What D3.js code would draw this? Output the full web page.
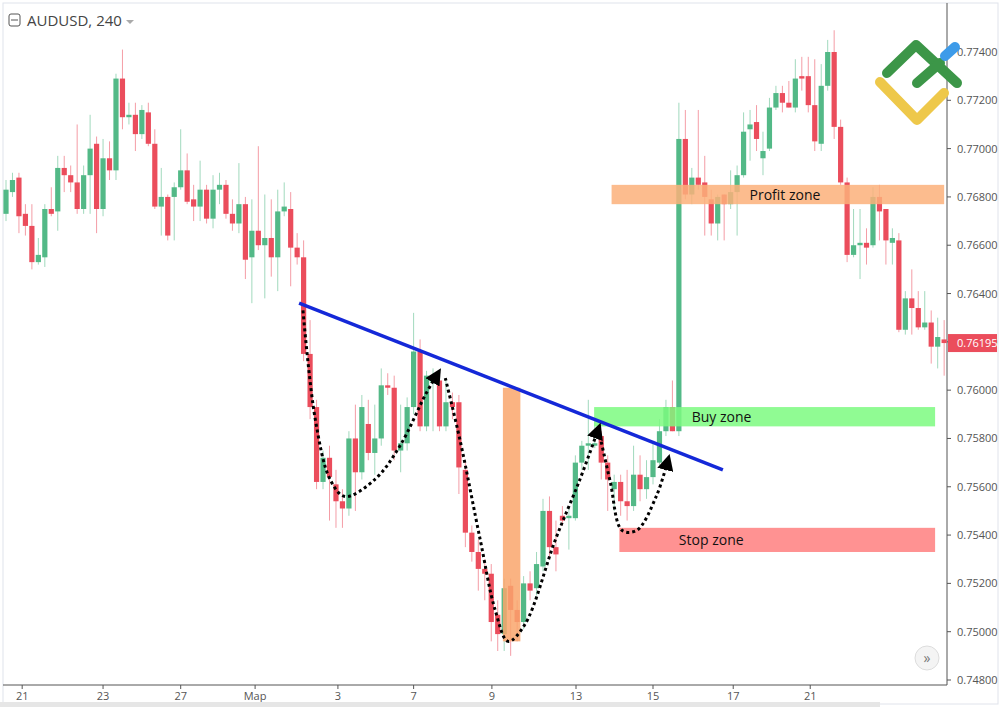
<!DOCTYPE html>
<html>
<head>
<meta charset="utf-8">
<script src="https://cdn.jsdelivr.net/npm/d3@7"></script>
<style>
  body { margin: 0; background: #fff; }
  text { font-family: "Open Sans", "DejaVu Sans", sans-serif; }
</style>
</head>
<body>
<svg id="chart" width="1000" height="707"></svg>
<script>
// AUDUSD 240 candles
var opens = [0.7673,0.7682,0.7688,0.7673,0.7668,0.7653,0.7655,0.7675,0.7674,0.7692,0.7689,0.7686,0.7675,0.7689,0.7702,0.7675,0.7696,0.7691,0.7729,0.7713,
0.7714,0.7706,0.7715,0.7702,0.7676,0.7680,0.7680,0.7684,0.7691,0.7679,0.7676,0.7683,0.7671,0.7683,0.7685,0.7673,0.7669,0.7677,0.7655,0.7666,
0.7660,0.7663,0.7655,0.7674,0.7675,0.7659,0.7655,0.7615,0.7593,0.7562,0.7572,0.7561,0.7554,0.7551,0.7580,0.7566,0.7586,0.7574,0.7580,0.7602,
0.7601,0.7575,0.7578,0.7593,0.7616,0.7585,0.7603,0.7604,0.7585,0.7595,0.7595,0.7567,0.7541,0.7533,0.7526,0.7524,0.7507,0.7499,0.7519,0.7509,
0.7504,0.7520,0.7518,0.7527,0.7550,0.7535,0.7548,0.7547,0.7547,0.7570,0.7577,0.7577,0.7581,0.7570,0.7559,0.7562,0.7554,0.7552,0.7565,0.7559,
0.7564,0.7570,0.7583,0.7593,0.7583,0.7704,0.7681,0.7688,0.7686,0.7679,0.7669,0.7681,0.7677,0.7682,0.7689,0.7708,0.7711,0.7696,0.7700,0.7717,
0.7723,0.7719,0.7717,0.7730,0.7730,0.7718,0.7702,0.7726,0.7740,0.7709,0.7686,0.7656,0.7660,0.7661,0.7660,0.7680,0.7675,0.7661,0.7662,0.7625,
0.7638,0.7634,0.7626,0.7628,0.7618,0.7621];
var closes = [0.7683,0.7687,0.7672,0.7668,0.7653,0.7656,0.7675,0.7673,0.7692,0.7689,0.7686,0.7675,0.7689,0.7700,0.7675,0.7696,0.7691,0.7729,0.7713,0.7714,
0.7706,0.7716,0.7702,0.7676,0.7680,0.7664,0.7684,0.7691,0.7678,0.7676,0.7683,0.7671,0.7683,0.7685,0.7673,0.7669,0.7677,0.7654,0.7666,0.7660,
0.7663,0.7655,0.7674,0.7676,0.7659,0.7655,0.7615,0.7593,0.7562,0.7572,0.7564,0.7554,0.7551,0.7580,0.7566,0.7593,0.7574,0.7580,0.7602,0.7601,
0.7575,0.7578,0.7593,0.7616,0.7585,0.7606,0.7605,0.7585,0.7595,0.7593,0.7568,0.7541,0.7533,0.7526,0.7524,0.7504,0.7499,0.7518,0.7509,0.7504,
0.7520,0.7517,0.7528,0.7550,0.7535,0.7532,0.7546,0.7548,0.7570,0.7577,0.7578,0.7578,0.7570,0.7563,0.7562,0.7554,0.7552,0.7565,0.7559,0.7564,
0.7571,0.7583,0.7593,0.7583,0.7704,0.7681,0.7688,0.7685,0.7680,0.7669,0.7680,0.7677,0.7682,0.7689,0.7707,0.7710,0.7704,0.7699,0.7717,0.7723,
0.7719,0.7717,0.7729,0.7729,0.7718,0.7703,0.7726,0.7740,0.7709,0.7686,0.7656,0.7660,0.7661,0.7659,0.7680,0.7674,0.7662,0.7663,0.7625,0.7638,
0.7634,0.7626,0.7628,0.7618,0.7622,0.76195];
var highs = [0.7687,0.7690,0.7690,0.7677,0.7677,0.7663,0.7677,0.7684,0.7697,0.7697,0.7693,0.7710,0.7693,0.7714,0.7705,0.7704,0.7703,0.7731,0.7741,0.7719,
0.7719,0.7718,0.7719,0.7708,0.7692,0.7681,0.7686,0.7708,0.7698,0.7685,0.7695,0.7685,0.7689,0.7690,0.7687,0.7679,0.7694,0.7680,0.7679,0.7701,
0.7681,0.7679,0.7683,0.7686,0.7682,0.7665,0.7662,0.7629,0.7596,0.7575,0.7577,0.7567,0.7559,0.7583,0.7594,0.7598,0.7596,0.7594,0.7609,0.7607,
0.7606,0.7594,0.7597,0.7632,0.7621,0.7608,0.7609,0.7607,0.7604,0.7599,0.7598,0.7571,0.7544,0.7538,0.7530,0.7528,0.7513,0.7522,0.7522,0.7513,
0.7523,0.7525,0.7533,0.7555,0.7556,0.7546,0.7552,0.7552,0.7573,0.7579,0.7596,0.7588,0.7583,0.7573,0.7565,0.7565,0.7567,0.7577,0.7573,0.7571,
0.7579,0.7588,0.7596,0.7604,0.7719,0.7716,0.7692,0.7716,0.7697,0.7683,0.7681,0.7681,0.7691,0.7693,0.7715,0.7716,0.7718,0.7707,0.7721,0.7726,
0.7726,0.7728,0.7737,0.7738,0.7738,0.7737,0.7735,0.7745,0.7749,0.7712,0.7688,0.7675,0.7675,0.7667,0.7684,0.7685,0.7675,0.7667,0.7665,0.7641,
0.7650,0.7641,0.7641,0.7633,0.7630,0.7629];
var lows = [0.7670,0.7680,0.7665,0.7664,0.7650,0.7652,0.7651,0.7672,0.7666,0.7682,0.7682,0.7673,0.7673,0.7673,0.7665,0.7672,0.7687,0.7687,0.7708,0.7710,
0.7699,0.7704,0.7701,0.7675,0.7664,0.7662,0.7662,0.7683,0.7677,0.7670,0.7670,0.7669,0.7667,0.7677,0.7671,0.7666,0.7665,0.7646,0.7636,0.7658,
0.7638,0.7647,0.7641,0.7672,0.7643,0.7652,0.7612,0.7588,0.7559,0.7559,0.7546,0.7543,0.7543,0.7548,0.7550,0.7563,0.7571,0.7565,0.7577,0.7598,
0.7571,0.7566,0.7575,0.7590,0.7583,0.7583,0.7583,0.7583,0.7583,0.7588,0.7557,0.7535,0.7529,0.7517,0.7513,0.7496,0.7492,0.7492,0.7490,0.7496,
0.7501,0.7513,0.7515,0.7525,0.7530,0.7525,0.7544,0.7534,0.7546,0.7567,0.7567,0.7576,0.7563,0.7550,0.7550,0.7548,0.7546,0.7550,0.7554,0.7555,
0.7561,0.7569,0.7581,0.7583,0.7581,0.7679,0.7677,0.7683,0.7664,0.7664,0.7662,0.7662,0.7675,0.7664,0.7688,0.7695,0.7699,0.7689,0.7699,0.7716,
0.7715,0.7717,0.7715,0.7724,0.7715,0.7699,0.7699,0.7724,0.7704,0.7685,0.7653,0.7655,0.7646,0.7652,0.7659,0.7662,0.7652,0.7652,0.7624,0.7623,
0.7623,0.7625,0.7625,0.7611,0.7609,0.7606];

var priceTicks = [0.748,0.750,0.752,0.754,0.756,0.758,0.760,0.762,0.764,0.766,0.768,0.770,0.772,0.774];
var dateTicks = [[2.5,"21"],[15,"23"],[27,"27"],[38.5,"Мар"],[51.3,"3"],[63,"7"],[75.1,"9"],[88.1,"13"],[100,"15"],[112.4,"17"],[124.3,"21"]];
var lastPrice = 0.76195;

// annotation zones: [fromIndex, toIndex, priceTop, priceBottom, label, colour]
var zones = [
  [93.6, 145.0, 0.7685, 0.7677, "Profit zone", "#fbb07a"],
  [90.9, 143.6, 0.7593, 0.7585, "Buy zone", "#7dfa80"],
  [94.8, 143.6, 0.7543, 0.7533, "Stop zone", "#ff7f7f"]
];
var targetBar = [76.8, 79.5, 0.7601, 0.7496];
var neckline = [[45.3, 0.7636], [110.8, 0.7567]];
var waves = [
  [[45.9,0.7633],[47.8,0.7588],[50.1,0.7563],[52.4,0.7556],[57,0.7563],[60.9,0.7577],[64.8,0.7598],[66.3,0.7605]],
  [[67.9,0.7605],[70.2,0.7579],[73.3,0.7538],[75.6,0.7509],[77.6,0.7496],[80.2,0.7503],[84.9,0.7538],[88.7,0.7563],[91.3,0.7582]],
  [[91.8,0.7581],[93.4,0.7562],[95.2,0.7542],[97.5,0.7542],[100.5,0.7556],[102.1,0.7569]]
];

var svg = d3.select("#chart");
var x = d3.scaleLinear().domain([0, 1]).range([6, 12.47]);
var y = d3.scaleLinear().domain([0.774, 0.748]).range([52, 680]);
var axisX = 947, axisY = 685;

// frame
svg.append("rect").attr("x", 3).attr("y", 3).attr("width", 995).attr("height", 701)
  .attr("fill", "none").attr("stroke", "#e0e3eb");
svg.append("line").attr("x1", axisX).attr("x2", axisX).attr("y1", 3).attr("y2", axisY).attr("stroke", "#555");
svg.append("line").attr("x1", 3).attr("x2", axisX).attr("y1", axisY).attr("y2", axisY).attr("stroke", "#555");

// candles
var candles = svg.append("g");
d3.range(opens.length).forEach(function(i) {
  var up = closes[i] >= opens[i];
  var col = up ? "#53b987" : "#eb4d5c";
  candles.append("line").attr("x1", x(i)).attr("x2", x(i))
    .attr("y1", y(highs[i])).attr("y2", y(lows[i]))
    .attr("stroke", col).attr("stroke-opacity", 0.55);
  var top = y(Math.max(opens[i], closes[i])), bot = y(Math.min(opens[i], closes[i]));
  candles.append("rect").attr("x", x(i) - 2.6).attr("width", 5.2)
    .attr("y", top).attr("height", Math.max(bot - top, 2)).attr("fill", col);
});

// zones
zones.forEach(function(z) {
  svg.append("rect").attr("x", x(z[0])).attr("width", x(z[1]) - x(z[0]))
    .attr("y", y(z[2])).attr("height", y(z[3]) - y(z[2]))
    .attr("fill", z[5]).attr("opacity", 0.85);
});
svg.append("text").attr("x", x(120.4)).attr("y", y(0.7681) + 5).attr("text-anchor", "middle")
  .attr("font-size", 14).attr("fill", "#111").text(zones[0][4]);
svg.append("text").attr("x", x(110.6)).attr("y", y(0.7589) + 5).attr("text-anchor", "middle")
  .attr("font-size", 14).attr("fill", "#111").text(zones[1][4]);
svg.append("text").attr("x", x(109)).attr("y", y(0.7538) + 5).attr("text-anchor", "middle")
  .attr("font-size", 14).attr("fill", "#111").text(zones[2][4]);

svg.append("rect").attr("x", x(targetBar[0])).attr("width", x(targetBar[1]) - x(targetBar[0]))
  .attr("y", y(targetBar[2])).attr("height", y(targetBar[3]) - y(targetBar[2]))
  .attr("fill", "#f9a66c").attr("opacity", 0.85);

// neckline
svg.append("line").attr("x1", x(neckline[0][0])).attr("y1", y(neckline[0][1]))
  .attr("x2", x(neckline[1][0])).attr("y2", y(neckline[1][1]))
  .attr("stroke", "#1428d8").attr("stroke-width", 3.5);

// dotted wave paths with arrowheads
svg.append("defs").append("marker").attr("id", "arr").attr("viewBox", "0 0 10 10")
  .attr("refX", 3).attr("refY", 5).attr("markerWidth", 5.5).attr("markerHeight", 5.5)
  .attr("orient", "auto").attr("markerUnits", "strokeWidth")
  .append("path").attr("d", "M0,0L10,5L0,10z").attr("fill", "#000");
var line = d3.line().x(function(d) { return x(d[0]); }).y(function(d) { return y(d[1]); })
  .curve(d3.curveCatmullRom);
waves.forEach(function(w) {
  svg.append("path").attr("d", line(w)).attr("fill", "none").attr("stroke", "#000")
    .attr("stroke-width", 3).attr("stroke-dasharray", "3,3").attr("marker-end", "url(#arr)");
});

// price axis
priceTicks.forEach(function(p) {
  svg.append("line").attr("x1", axisX).attr("x2", axisX + 4).attr("y1", y(p)).attr("y2", y(p)).attr("stroke", "#555");
  svg.append("text").attr("x", axisX + 10).attr("y", y(p) + 4).attr("font-size", 11)
    .attr("fill", "#555").text(p.toFixed(5));
});
svg.append("rect").attr("x", axisX + 1).attr("y", y(lastPrice) - 9).attr("width", 49).attr("height", 18).attr("fill", "#eb4d5c");
svg.append("text").attr("x", axisX + 10).attr("y", y(lastPrice) + 4).attr("font-size", 11)
  .attr("fill", "#fff").text(lastPrice.toFixed(5));

// date axis
dateTicks.forEach(function(t) {
  svg.append("line").attr("x1", x(t[0])).attr("x2", x(t[0])).attr("y1", axisY).attr("y2", axisY + 4).attr("stroke", "#555");
  svg.append("text").attr("x", x(t[0])).attr("y", axisY + 15).attr("text-anchor", "middle")
    .attr("font-size", 11).attr("fill", "#555").text(t[1]);
});
svg.append("rect").attr("x", 0).attr("y", 702).attr("width", 880).attr("height", 5).attr("fill", "#e6e6e6");

// title
svg.append("rect").attr("x", 9).attr("y", 14).attr("width", 11).attr("height", 12).attr("rx", 2)
  .attr("fill", "none").attr("stroke", "#555");
svg.append("line").attr("x1", 11).attr("x2", 18).attr("y1", 20).attr("y2", 20).attr("stroke", "#555");
svg.append("text").attr("x", 27).attr("y", 26).attr("font-size", 15).attr("fill", "#444").text("AUDUSD, 240");
svg.append("path").attr("d", "M126,20l4,4l4,-4z").attr("fill", "#aaa");

// logo
var logo = svg.append("g").attr("fill", "none").attr("stroke-width", 10).attr("stroke-linecap", "round").attr("stroke-linejoin", "round");
logo.append("path").attr("d", "M880,82L917,120L944,93").attr("stroke", "#eec84a");
logo.append("path").attr("d", "M887,73L916,45L957,83").attr("stroke", "#3c9648");
logo.append("path").attr("d", "M917,83L940,63").attr("stroke", "#3c9648");
logo.append("path").attr("d", "M945,56L955,47").attr("stroke", "#3d9be9");

// scroll button
svg.append("circle").attr("cx", 927).attr("cy", 658).attr("r", 12).attr("fill", "#f4f4f4").attr("stroke", "#ddd");
svg.append("text").attr("x", 927).attr("y", 663).attr("text-anchor", "middle").attr("font-size", 14).attr("fill", "#777").text("»");
</script>
</body>
</html>
